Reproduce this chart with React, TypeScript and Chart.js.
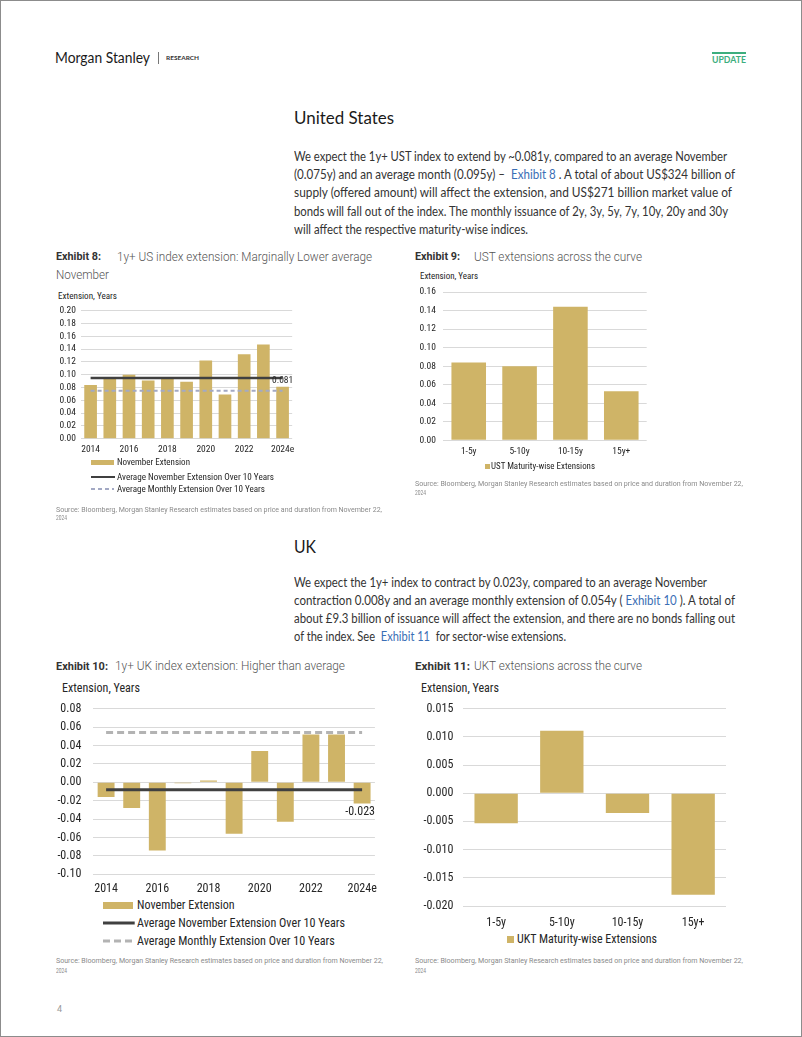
import React, { useEffect, useLayoutEffect, useRef } from 'react';
import { Chart, registerables } from 'chart.js';

Chart.register(...registerables);

// ---------------- data ----------------
const years = ['2014', '2015', '2016', '2017', '2018', '2019', '2020', '2021', '2022', '2023', '2024e'];

const usNovemberExt = [0.084, 0.094, 0.1, 0.091, 0.094, 0.089, 0.122, 0.069, 0.132, 0.147, 0.081];
const usAvgNovember = [0.095, 0.095, 0.095, 0.095, 0.095, 0.095, 0.095, 0.095, 0.095, 0.095, 0.095];
const usAvgMonthly = [0.075, 0.075, 0.075, 0.075, 0.075, 0.075, 0.075, 0.075, 0.075, 0.075, 0.075];
const usYRange = [0, 0.2, 0.02];

const ustBuckets = ['1-5y', '5-10y', '10-15y', '15y+'];
const ustMaturityExt = [0.084, 0.08, 0.144, 0.053];
const ustYRange = [0, 0.16, 0.02];

const ukNovemberExt = [-0.016, -0.028, -0.074, -0.001, 0.002, -0.056, 0.034, -0.043, 0.052, 0.052, -0.023];
const ukAvgNovember = [-0.008, -0.008, -0.008, -0.008, -0.008, -0.008, -0.008, -0.008, -0.008, -0.008, -0.008];
const ukAvgMonthly = [0.054, 0.054, 0.054, 0.054, 0.054, 0.054, 0.054, 0.054, 0.054, 0.054, 0.054];
const ukYRange = [-0.1, 0.08, 0.02];

const uktBuckets = ['1-5y', '5-10y', '10-15y', '15y+'];
const uktMaturityExt = [-0.0053, 0.0111, -0.0035, -0.018];
const uktYRange = [-0.02, 0.015, 0.005];

// ---------------- styles ----------------
const CHART_FONT = '"Roboto Condensed","Liberation Sans Narrow","Arial Narrow","DejaVu Sans Condensed",Roboto,sans-serif';
const BODY_FONT = 'Lato, "Open Sans", sans-serif';
const TITLE_FONT = 'Roboto, "Open Sans", sans-serif';
const BAR = '#cfb467';
const GRID = '#d9d9d9';
const TICK = '#262626';
const DARK_LINE = '#404040';
const US_DASH = '#a3a9c4';
const UK_DASH = '#b3b3b3';
const LINK = '#3a6eb5';

// ---------------- helpers ----------------
type TxtProps = {
  x: number; y: number; size: number; w?: number; color?: string; weight?: number;
  family?: string; children: React.ReactNode;
};

function Txt({ x, y, size, w, color = '#333', weight = 400, family = BODY_FONT, children }: TxtProps) {
  const ref = useRef<HTMLDivElement>(null);
  useLayoutEffect(() => {
    const el = ref.current;
    if (!el || !w) return;
    const fit = () => {
      el.style.transform = 'none';
      const actual = el.getBoundingClientRect().width;
      if (actual > 0) el.style.transform = `scaleX(${w / actual})`;
    };
    fit();
    const fonts: any = (document as any).fonts;
    if (fonts && fonts.ready) fonts.ready.then(fit);
  }, [w]);
  const lh = Math.round(size * 1.25);
  return (
    <div
      ref={ref}
      style={{
        position: 'absolute', left: x, top: y - lh / 2, fontSize: size, lineHeight: lh + 'px',
        whiteSpace: 'pre', color, fontWeight: weight, fontFamily: family, transformOrigin: '0 50%',
      }}
    >
      {children}
    </div>
  );
}

function Rect({ x, y, w, h, color }: { x: number; y: number; w: number; h: number; color: string }) {
  return <div style={{ position: 'absolute', left: x, top: y, width: w, height: h, background: color }} />;
}

function LegendLine({ x1, x2, y, width, color, dash }: { x1: number; x2: number; y: number; width: number; color: string; dash?: string }) {
  return (
    <svg style={{ position: 'absolute', left: x1, top: y - 4 }} width={x2 - x1} height={8}>
      <line x1={0} x2={x2 - x1} y1={4} y2={4} stroke={color} strokeWidth={width} strokeDasharray={dash} />
    </svg>
  );
}

type Geo = {
  left: number; top: number; width: number; height: number;
  areaLeft: number; areaTop: number; areaRight: number; areaBottom: number;
};

type LineDef = { data: number[]; color: string; width: number; dash?: number[] };

type CfgParams = {
  geo: Geo; labels: string[]; bars: number[]; lines?: LineDef[];
  range: number[]; decimals: number; fontSize: number; yPad: number; xPad: number;
  everyOther?: boolean; barPct: number;
  valueLabel?: { index: number; dx: number; dy: number };
};

function makeConfig(p: CfgParams): any {
  const g = p.geo;
  const yW = g.areaLeft - g.left;
  const xH = g.top + g.height - g.areaBottom;
  const font = { family: CHART_FONT, size: p.fontSize };
  const plugins: any[] = [];
  if (p.valueLabel) {
    const vl = p.valueLabel;
    plugins.push({
      id: 'valueLabel',
      afterDatasetsDraw(chart: any) {
        const meta = chart.getDatasetMeta(0);
        const el = meta.data[vl.index];
        const v = chart.data.datasets[0].data[vl.index];
        const ctx = chart.ctx;
        ctx.save();
        ctx.font = `${p.fontSize}px ${CHART_FONT}`;
        ctx.fillStyle = TICK;
        ctx.textAlign = 'center';
        ctx.textBaseline = 'middle';
        ctx.fillText(Number(v).toFixed(3), el.x + vl.dx, el.y + vl.dy);
        ctx.restore();
      },
    });
  }
  return {
    type: 'bar',
    data: {
      labels: p.labels,
      datasets: [
        {
          type: 'bar', label: 'bars', data: p.bars, backgroundColor: BAR, borderWidth: 0,
          barPercentage: p.barPct, categoryPercentage: 1, order: 5,
        },
        ...(p.lines || []).map((l, i) => ({
          type: 'line', label: 'line' + i, data: l.data, borderColor: l.color, borderWidth: l.width,
          borderDash: l.dash || [], pointRadius: 0, pointHoverRadius: 0, fill: false, tension: 0, order: i,
        })),
      ],
    },
    options: {
      responsive: false,
      animation: false,
      devicePixelRatio: 1,
      layout: {
        padding: { left: 0, top: g.areaTop - g.top, right: g.left + g.width - g.areaRight, bottom: 0 },
      },
      plugins: { legend: { display: false }, tooltip: { enabled: false }, title: { display: false } },
      scales: {
        x: {
          type: 'category', offset: true,
          grid: { display: false, drawTicks: false }, border: { display: false },
          ticks: {
            autoSkip: false, maxRotation: 0, minRotation: 0, padding: p.xPad, color: TICK, font,
            callback: (_v: any, i: number) => (p.everyOther && i % 2 === 1 ? '' : p.labels[i]),
          },
          afterFit: (s: any) => { s.height = xH; },
        },
        y: {
          min: p.range[0], max: p.range[1],
          grid: { color: GRID, lineWidth: 1, drawTicks: false }, border: { display: false },
          ticks: {
            stepSize: p.range[2], padding: p.yPad, color: TICK, font, autoSkip: false, maxTicksLimit: 50,
            callback: (v: any) => Number(v).toFixed(p.decimals),
          },
          afterFit: (s: any) => { s.width = yW; },
        },
      },
    },
    plugins,
  };
}

function ChartCanvas({ geo, params }: { geo: Geo; params: CfgParams }) {
  const ref = useRef<HTMLCanvasElement>(null);
  useEffect(() => {
    const chart = new Chart(ref.current as HTMLCanvasElement, makeConfig(params));
    return () => chart.destroy();
  }, []);
  return (
    <canvas
      ref={ref}
      width={geo.width}
      height={geo.height}
      style={{ position: 'absolute', left: geo.left, top: geo.top, width: geo.width, height: geo.height }}
    />
  );
}

// ---------------- geometry ----------------
const geo8: Geo = { left: 55, top: 298, width: 245, height: 162, areaLeft: 81, areaTop: 310.7, areaRight: 293, areaBottom: 438.7 };
const geo9: Geo = { left: 414, top: 278, width: 241, height: 181, areaLeft: 443.3, areaTop: 292, areaRight: 646.7, areaBottom: 440.3 };
const geo10: Geo = { left: 55, top: 686, width: 330, height: 212, areaLeft: 93.3, areaTop: 708.7, areaRight: 375.7, areaBottom: 874.3 };
const geo11: Geo = { left: 414, top: 688, width: 322, height: 244, areaLeft: 463.3, areaTop: 708.7, areaRight: 726, areaBottom: 906 };

const SOURCE = 'Source: Bloomberg, Morgan Stanley Research estimates based on price and duration from November 22,';

export default function App() {
  return (
    <div style={{ position: 'absolute', left: 0, top: 0, width: 802, height: 1037, background: '#fff', overflow: 'hidden' }}>
      <div style={{ position: 'absolute', left: 0, top: 0, width: 802, height: 1037, boxSizing: 'border-box', border: '1px solid #8c8c8c' }} />

      {/* header */}
      <Txt x={55} y={57.5} size={14.5} w={95} color="#1a1a1a">Morgan Stanley</Txt>
      <Rect x={158} y={52} w={1} h={12} color="#777" />
      <Txt x={166} y={58} size={6} w={33} weight={700} color="#333">RESEARCH</Txt>
      <Rect x={712} y={52} w={34} h={2} color="#3dae7e" />
      <Txt x={712} y={59} size={9} w={34} weight={700} color="#3dae7e">UPDATE</Txt>

      {/* United States */}
      <Txt x={294} y={118} size={17.5} w={100} color="#1a1a1a">United States</Txt>
      <Txt x={294} y={157} size={12.5} w={433} color="#333">We expect the 1y+ UST index to extend by ~0.081y, compared to an average November</Txt>
      <Txt x={294} y={175} size={12.5} w={441} color="#333">(0.075y) and an average month (0.095y) –  <span style={{ color: LINK }}>Exhibit 8</span> . A total of about US$324 billion of</Txt>
      <Txt x={294} y={193.3} size={12.5} w={438} color="#333">supply (offered amount) will affect the extension, and US$271 billion market value of</Txt>
      <Txt x={294} y={211.7} size={12.5} w={434} color="#333">bonds will fall out of the index. The monthly issuance of 2y, 3y, 5y, 7y, 10y, 20y and 30y</Txt>
      <Txt x={294} y={230} size={12.5} w={234} color="#333">will affect the respective maturity-wise indices.</Txt>

      {/* Exhibit 8 */}
      <Txt x={56} y={257} size={11} w={45} weight={700} family={TITLE_FONT} color="#333">Exhibit 8:</Txt>
      <Txt x={117} y={257} size={12} w={255} weight={300} family={TITLE_FONT} color="#555">1y+ US index extension: Marginally Lower average</Txt>
      <Txt x={56} y={275} size={12} w={53} weight={300} family={TITLE_FONT} color="#555">November</Txt>
      <Txt x={58} y={296} size={9.5} w={59} family={CHART_FONT} color="#262626">Extension, Years</Txt>
      <ChartCanvas
        geo={geo8}
        params={{
          geo: geo8, labels: years, bars: usNovemberExt,
          lines: [
            { data: usAvgNovember, color: DARK_LINE, width: 2.5 },
            { data: usAvgMonthly, color: US_DASH, width: 2, dash: [4, 3] },
          ],
          range: usYRange, decimals: 2, fontSize: 9.5, yPad: 5, xPad: 5.5, everyOther: true, barPct: 0.66,
          valueLabel: { index: 10, dx: 0, dy: -6.5 },
        }}
      />
      <Rect x={91} y={459.5} w={23} h={5} color={BAR} />
      <Txt x={116.7} y={462} size={9.5} w={73} family={CHART_FONT} color="#262626">November Extension</Txt>
      <LegendLine x1={91} x2={115} y={476.7} width={2} color={DARK_LINE} />
      <Txt x={116.7} y={476.7} size={9.5} w={157} family={CHART_FONT} color="#262626">Average November Extension Over 10 Years</Txt>
      <LegendLine x1={91} x2={114} y={489} width={2} color={US_DASH} dash="4 3" />
      <Txt x={116.7} y={489} size={9.5} w={148} family={CHART_FONT} color="#262626">Average Monthly Extension Over 10 Years</Txt>
      <Txt x={56} y={510} size={7} w={326} family={TITLE_FONT} color="#8a8a8a">{SOURCE}</Txt>
      <Txt x={56} y={518.5} size={7} w={11} family={TITLE_FONT} color="#8a8a8a">2024</Txt>

      {/* Exhibit 9 */}
      <Txt x={415} y={257} size={11} w={45} weight={700} family={TITLE_FONT} color="#333">Exhibit 9:</Txt>
      <Txt x={474} y={257} size={12} w={168} weight={300} family={TITLE_FONT} color="#555">UST extensions across the curve</Txt>
      <Txt x={420} y={276} size={9.5} w={58} family={CHART_FONT} color="#262626">Extension, Years</Txt>
      <ChartCanvas
        geo={geo9}
        params={{
          geo: geo9, labels: ustBuckets, bars: ustMaturityExt,
          range: ustYRange, decimals: 2, fontSize: 9.5, yPad: 7.3, xPad: 5.7, barPct: 0.68,
        }}
      />
      <Rect x={485} y={463.5} w={5} h={5} color={BAR} />
      <Txt x={491} y={466} size={9.5} w={104} family={CHART_FONT} color="#262626">UST Maturity-wise Extensions</Txt>
      <Txt x={415} y={484.5} size={7} w={328} family={TITLE_FONT} color="#8a8a8a">{SOURCE}</Txt>
      <Txt x={415} y={493.3} size={7} w={11} family={TITLE_FONT} color="#8a8a8a">2024</Txt>

      {/* UK */}
      <Txt x={294} y={547} size={17.5} w={22} color="#1a1a1a">UK</Txt>
      <Txt x={294} y={583} size={12.5} w={413} color="#333">We expect the 1y+ index to contract by 0.023y, compared to an average November</Txt>
      <Txt x={294} y={601} size={12.5} w={441} color="#333">contraction 0.008y and an average monthly extension of 0.054y ( <span style={{ color: LINK }}>Exhibit 10</span> ). A total of</Txt>
      <Txt x={294} y={619} size={12.5} w={441} color="#333">about £9.3 billion of issuance will affect the extension, and there are no bonds falling out</Txt>
      <Txt x={294} y={637} size={12.5} w={272} color="#333">of the index. See  <span style={{ color: LINK }}>Exhibit 11</span>  for sector-wise extensions.</Txt>

      {/* Exhibit 10 */}
      <Txt x={56} y={666.5} size={11} w={52} weight={700} family={TITLE_FONT} color="#333">Exhibit 10:</Txt>
      <Txt x={115} y={666.5} size={12} w={230} weight={300} family={TITLE_FONT} color="#555">1y+ UK index extension: Higher than average</Txt>
      <Txt x={62.3} y={688.3} size={12} w={78} family={CHART_FONT} color="#262626">Extension, Years</Txt>
      <ChartCanvas
        geo={geo10}
        params={{
          geo: geo10, labels: years, bars: ukNovemberExt,
          lines: [
            { data: ukAvgNovember, color: DARK_LINE, width: 3 },
            { data: ukAvgMonthly, color: UK_DASH, width: 3, dash: [7, 4] },
          ],
          range: ukYRange, decimals: 2, fontSize: 12, yPad: 12, xPad: 7.8, everyOther: true, barPct: 0.66,
          valueLabel: { index: 10, dx: -2, dy: 8.5 },
        }}
      />
      <Rect x={103.3} y={901.5} w={30} h={7} color={BAR} />
      <Txt x={136.7} y={905} size={12} w={97.7} family={CHART_FONT} color="#262626">November Extension</Txt>
      <LegendLine x1={103.3} x2={135} y={923.3} width={3} color={DARK_LINE} />
      <Txt x={136.7} y={923.3} size={12} w={208} family={CHART_FONT} color="#262626">Average November Extension Over 10 Years</Txt>
      <LegendLine x1={103.3} x2={133} y={941} width={3} color={UK_DASH} dash="7 4" />
      <Txt x={136.7} y={941} size={12} w={197.7} family={CHART_FONT} color="#262626">Average Monthly Extension Over 10 Years</Txt>
      <Txt x={56} y={961} size={7} w={327} family={TITLE_FONT} color="#8a8a8a">{SOURCE}</Txt>
      <Txt x={56} y={971} size={7} w={11} family={TITLE_FONT} color="#8a8a8a">2024</Txt>

      {/* Exhibit 11 */}
      <Txt x={415} y={666.5} size={11} w={55} weight={700} family={TITLE_FONT} color="#333">Exhibit 11:</Txt>
      <Txt x={474.3} y={666.5} size={12} w={168} weight={300} family={TITLE_FONT} color="#555">UKT extensions across the curve</Txt>
      <Txt x={420.7} y={688.3} size={12} w={78} family={CHART_FONT} color="#262626">Extension, Years</Txt>
      <ChartCanvas
        geo={geo11}
        params={{
          geo: geo11, labels: uktBuckets, bars: uktMaturityExt,
          range: uktYRange, decimals: 3, fontSize: 12, yPad: 10, xPad: 10, barPct: 0.66,
        }}
      />
      <Rect x={506.7} y={935.8} w={7} h={7} color={BAR} />
      <Txt x={516.7} y={939.3} size={12} w={140} family={CHART_FONT} color="#262626">UKT Maturity-wise Extensions</Txt>
      <Txt x={415} y={961} size={7} w={328} family={TITLE_FONT} color="#8a8a8a">{SOURCE}</Txt>
      <Txt x={415} y={971} size={7} w={11} family={TITLE_FONT} color="#8a8a8a">2024</Txt>

      {/* page number */}
      <Txt x={57} y={1009} size={9} color="#999" family={TITLE_FONT}>4</Txt>
    </div>
  );
}
